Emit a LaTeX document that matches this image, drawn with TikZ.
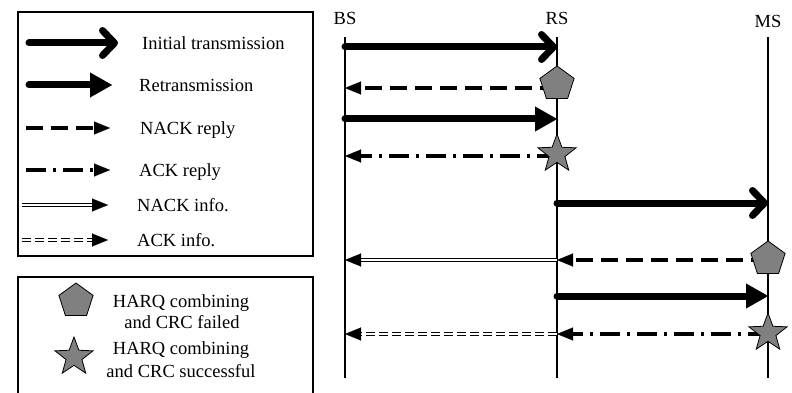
\documentclass[tikz,border=0pt]{standalone}
\usepackage{fontspec}
\setmainfont{Liberation Serif}
\usetikzlibrary{arrows.meta,shapes.geometric}

\begin{document}
\begin{tikzpicture}[x=1pt,y=-1pt,
  txt/.style={font=\fontsize{18.5}{22}\selectfont, inner sep=0pt},
  life/.style={line width=1.2pt},
  initial/.style={line width=7pt, line cap=round, -{Straight Barb[length=12pt,width=25pt,round]}},
  retrans/.style={line width=7pt, line cap=round, -{Triangle[length=22pt,width=25pt,line width=0.1pt]}},
  nackreply/.style={line width=3.2pt, dash pattern=on 17pt off 8pt, -{Triangle[length=16pt,width=13pt,line width=0.1pt]}},
  ackreply/.style={line width=3.2pt, dash pattern=on 20pt off 7pt on 3pt off 7pt, -{Triangle[length=16pt,width=13pt,line width=0.1pt]}},
  nackinfo/.style={line width=1.2pt, double, double distance=1.6pt, -{Triangle[length=16pt,width=13pt,line width=0.1pt]}},
  ackinfo/.style={nackinfo, dash pattern=on 9pt off 4pt},
  failmark/.style={regular polygon, regular polygon sides=5, minimum size=36pt, inner sep=0pt, draw, fill=gray, line width=0.8pt},
  okmark/.style={star, star points=5, star point ratio=2.4, minimum size=40pt, inner sep=0pt, draw, fill=gray, line width=0.8pt}]
\useasboundingbox (0,0) rectangle (792,393);

%legend boxes
\draw[life] (18,12) rectangle (313,256);
\draw[life] (18,393) -- (18,277) -- (313,277) -- (313,393);

%legend keys
\foreach \s/\y/\a/\e/\tx/\t [count=\i] in {initial/43/29/118/142/Initial transmission, retrans/85/29/112/139/Retransmission, nackreply/128/26/110/140/NACK reply, ackreply/170/26/110/139/ACK reply, nackinfo/205/22/108/137/NACK info., ackinfo/240/22/108/137/ACK info.} {
  \coordinate (key\i a) at (\a,\y);
  \coordinate (key\i b) at (\e,\y);
  \draw[style=\s] (key\i a) -- (key\i b);
  \node[txt, anchor=base west] (key\i) at (\tx,\y+6.5) {\t};
}

\node[failmark] (keyf) at (76,301) {};
\node[okmark] (keys) at (74,357) {};
\node[txt, anchor=base] (keyf1) at (181,307) {HARQ combining};
\node[txt, anchor=base] (keyf2) at (182,328) {and CRC failed};
\node[txt, anchor=base] (keys1) at (181,354) {HARQ combining};
\node[txt, anchor=base] (keys2) at (181,377) {and CRC successful};

%lifelines
\foreach \s/\x/\b/\t in {bs/345/25/BS, rs/557/25/RS, ms/768/28/MS} {
  \node[txt, anchor=base] (\s) at (\x,\b) {\t};
  \coordinate (\s top) at (\x,37);
  \coordinate (\s bot) at (\x,378);
  \draw[life] (\s top) -- (\s bot);
}

%message points
\foreach \n/\y in {1/47,2/88,3/119,4/156,5/203,6/260,7/296,8/334} {
  \coordinate (bs\n) at (345,\y);
  \coordinate (rs\n) at (557,\y);
  \coordinate (ms\n) at (768,\y);
}

%messages
\draw[initial] (bs1) -- (rs1);
\draw[nackreply] (rs2) -- (bs2);
\draw[retrans] (bs3) -- (rs3);
\draw[ackreply] (rs4) -- (bs4);
\draw[initial] (rs5) -- (ms5);
\draw[nackreply] (ms6) -- (rs6);
\draw[nackinfo] (rs6) -- (bs6);
\draw[retrans] (rs7) -- (ms7);
\draw[ackreply] (ms8) -- (rs8);
\draw[ackinfo] (rs8) -- (bs8);

%marks
\node[failmark] (f1) at (557,84) {};
\node[okmark] (k1) at (557,154) {};
\node[failmark] (f2) at (768,259) {};
\node[okmark] (k2) at (768,333) {};
\end{tikzpicture}
\end{document}
